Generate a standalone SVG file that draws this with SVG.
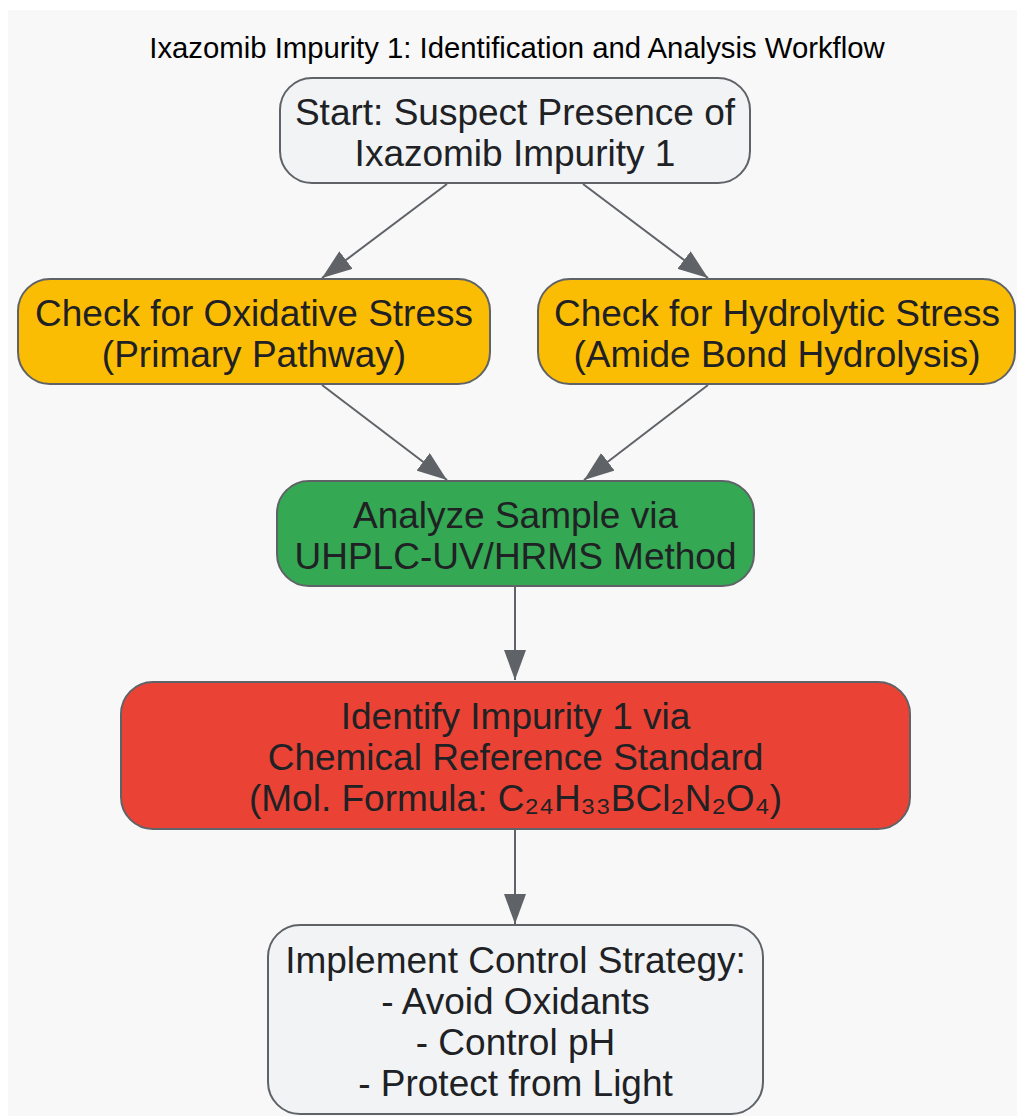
<svg xmlns="http://www.w3.org/2000/svg" width="1017" height="1116" viewBox="0 0 1017 1116">
  <defs>
    <marker id="arrow" viewBox="0 0 15 11" refX="15" refY="5.5" markerWidth="15" markerHeight="11" markerUnits="strokeWidth" orient="auto">
      <path d="M0,0 L15,5.5 L0,11 Z" fill="#5f6368"/>
    </marker>
    <style>
      .node rect { stroke: #5f6368; stroke-width: 2; }
      .node text { font-family: "Liberation Sans", Arial, sans-serif; font-size: 37px; fill: #202124; text-anchor: middle; }
      .edge { stroke: #5f6368; stroke-width: 2; fill: none; marker-end: url(#arrow); }
      .title { font-family: "Liberation Sans", Arial, sans-serif; font-size: 29.3px; fill: #000000; text-anchor: middle; }
    </style>
  </defs>
  <rect x="8" y="10" width="1009" height="1106" fill="#f8f8f8"/>
  <text class="title" x="517" y="58">Ixazomib Impurity 1: Identification and Analysis Workflow</text>

  <g id="connectors">
    <line class="edge" x1="447" y1="184" x2="322" y2="278"/>
    <line class="edge" x1="583" y1="184" x2="708" y2="278"/>
    <line class="edge" x1="322" y1="385" x2="447" y2="480"/>
    <line class="edge" x1="708" y1="385" x2="584" y2="480"/>
    <line class="edge" x1="515" y1="587" x2="515" y2="680"/>
    <line class="edge" x1="515" y1="830" x2="515" y2="924"/>
  </g>

  <g id="start" class="node">
    <rect x="280" y="78" width="470" height="105" rx="32" fill="#f1f3f4"/>
    <text x="515" y="125">Start: Suspect Presence of</text>
    <text x="515" y="166">Ixazomib Impurity 1</text>
  </g>

  <g id="oxidative" class="node">
    <rect x="18" y="279" width="472" height="105" rx="32" fill="#fbbc04"/>
    <text x="254" y="326">Check for Oxidative Stress</text>
    <text x="254" y="367">(Primary Pathway)</text>
  </g>

  <g id="hydrolytic" class="node">
    <rect x="538" y="279" width="477" height="105" rx="32" fill="#fbbc04"/>
    <text x="777" y="326">Check for Hydrolytic Stress</text>
    <text x="777" y="367">(Amide Bond Hydrolysis)</text>
  </g>

  <g id="analyze" class="node">
    <rect x="277" y="481" width="477" height="105" rx="32" fill="#34a853"/>
    <text x="515.5" y="528">Analyze Sample via</text>
    <text x="515.5" y="569">UHPLC-UV/HRMS Method</text>
  </g>

  <g id="identify" class="node">
    <rect x="121" y="682" width="789" height="147" rx="32" fill="#ea4335"/>
    <text x="515.5" y="729">Identify Impurity 1 via</text>
    <text x="515.5" y="770">Chemical Reference Standard</text>
    <text x="515.5" y="811">(Mol. Formula: C₂₄H₃₃BCl₂N₂O₄)</text>
  </g>

  <g id="implement" class="node">
    <rect x="268" y="925" width="495" height="189" rx="32" fill="#f1f3f4"/>
    <text x="515.5" y="973">Implement Control Strategy:</text>
    <text x="515.5" y="1014">- Avoid Oxidants</text>
    <text x="515.5" y="1055">- Control pH</text>
    <text x="515.5" y="1096">- Protect from Light</text>
  </g>
</svg>
